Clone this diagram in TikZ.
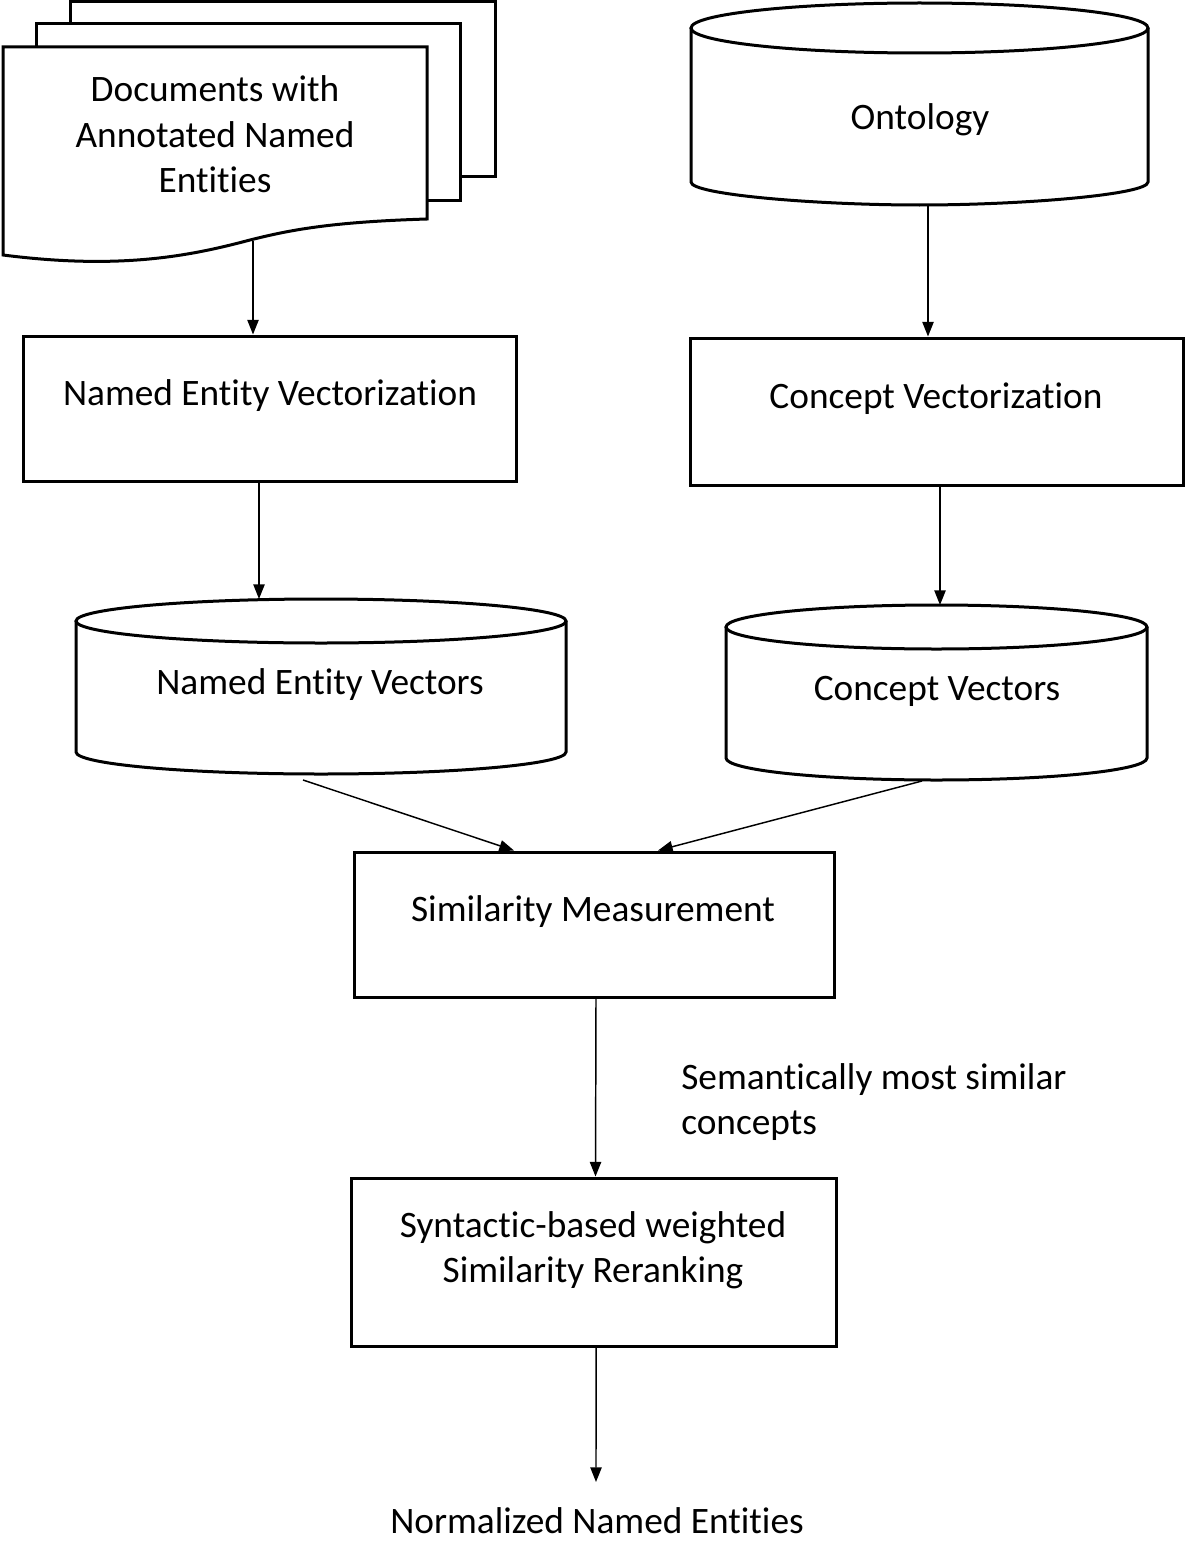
\documentclass[tikz,border=0pt]{standalone}
\usepackage{fontspec}
\setmainfont{Carlito}[Ligatures=NoCommon]
\usetikzlibrary{arrows.meta}
\begin{document}
\begin{tikzpicture}[x=0.75pt,y=-0.75pt,
  shp/.style={draw=black,line width=2.25pt,fill=white,line join=miter},
  boxn/.style={draw=black,line width=2.25pt,fill=white,inner sep=0pt},
  conn/.style={draw=black,line width=1.1pt,-{Triangle[length=11pt,width=8.5pt]}},
  txt/.style={font=\fontsize{28}{33.75}\selectfont,align=center,inner sep=0pt,anchor=base},
  ltxt/.style={font=\fontsize{28}{33.75}\selectfont,align=left,inner sep=0pt,anchor=base west}]
\useasboundingbox (0,0) rectangle (1185,1541);

% ---------- documents stack ----------
\draw[shp] (70,2) rectangle (495,177);
\draw[shp] (36,24) rectangle (460,200);
\draw[shp] (3,47) -- (427,47) -- (427,219)
  .. controls (330,222) and (290,230) .. (250,240)
  .. controls (190,256) and (120,270) .. (3,255) -- cycle;
\node[txt] (docs) at (215,192) {Documents with\\Annotated Named\\Entities};
\coordinate (docsout) at (253,241);

% ---------- ontology cylinder ----------
\draw[shp] (691,28) -- (691,182)
  .. controls (691,194.7) and (817.2,205) .. (919.5,205)
  .. controls (1021.8,205) and (1148,194.7) .. (1148,182) -- (1148,28);
\draw[shp] (919.5,28) ellipse [x radius=228.5, y radius=25];
\node[txt] (onto) at (920,130) {Ontology};
\coordinate (ontoout) at (928,206);

% ---------- vectorization boxes ----------
\node[boxn,minimum width=493*0.75pt,minimum height=145*0.75pt] (nevbox) at (269.5,408.5) {};
\node[txt] (nevtxt) at (270,405) {Named Entity Vectorization};
\node[boxn,minimum width=493*0.75pt,minimum height=147*0.75pt] (cvbox) at (936.5,411.5) {};
\node[txt] (cvtxt) at (936,408) {Concept Vectorization};

% ---------- vector cylinders ----------
\draw[shp] (76,621) -- (76,752)
  .. controls (76,764.1) and (185.7,774) .. (321,774)
  .. controls (456.3,774) and (566,764.1) .. (566,752) -- (566,621);
\draw[shp] (321,621) ellipse [x radius=245, y radius=22];
\node[txt] (nevec) at (320,694) {Named Entity Vectors};
\coordinate (nevecin) at (259,599);
\coordinate (nevecout) at (303,780);

\draw[shp] (726,627) -- (726,758)
  .. controls (726,770.1) and (819.6,780) .. (936.5,780)
  .. controls (1053.4,780) and (1147,770.1) .. (1147,758) -- (1147,627);
\draw[shp] (936.5,627) ellipse [x radius=210.5, y radius=22];
\node[txt] (cvec) at (937,700) {Concept Vectors};
\coordinate (cvecin) at (940,605);
\coordinate (cvecout) at (922,781);

% ---------- similarity ----------
\node[boxn,minimum width=480*0.75pt,minimum height=145*0.75pt] (smbox) at (594,924.5) {};
\node[txt] (smtxt) at (593,921) {Similarity Measurement};
\node[ltxt] (semlbl) at (681,1134) {Semantically most similar\\concepts};

\node[boxn,minimum width=485*0.75pt,minimum height=168*0.75pt] (srbox) at (593.5,1262) {};
\node[txt] (srtxt) at (593,1282) {Syntactic-based weighted\\Similarity Reranking};

\node[txt] (out) at (597,1533) {Normalized Named Entities};
\coordinate (outin) at (596,1482);

% ---------- connectors ----------
\draw[conn] (docsout) -- (docsout |- nevbox.north);
\draw[conn] (ontoout) -- (ontoout |- cvbox.north);
\draw[conn] (nevbox.south -| nevecin) -- (nevecin);
\draw[conn] (cvbox.south -| cvecin) -- (cvecin);
\draw[conn] (nevecout) -- ([xshift=-60pt]smbox.north);
\draw[conn] (cvecout) -- ([xshift=48pt]smbox.north);
\draw[conn] ([xshift=1.5pt]smbox.south) -- ([xshift=1.5pt]srbox.north);
\draw[conn] ([xshift=1.9pt]srbox.south) -- (outin);
\end{tikzpicture}
\end{document}
